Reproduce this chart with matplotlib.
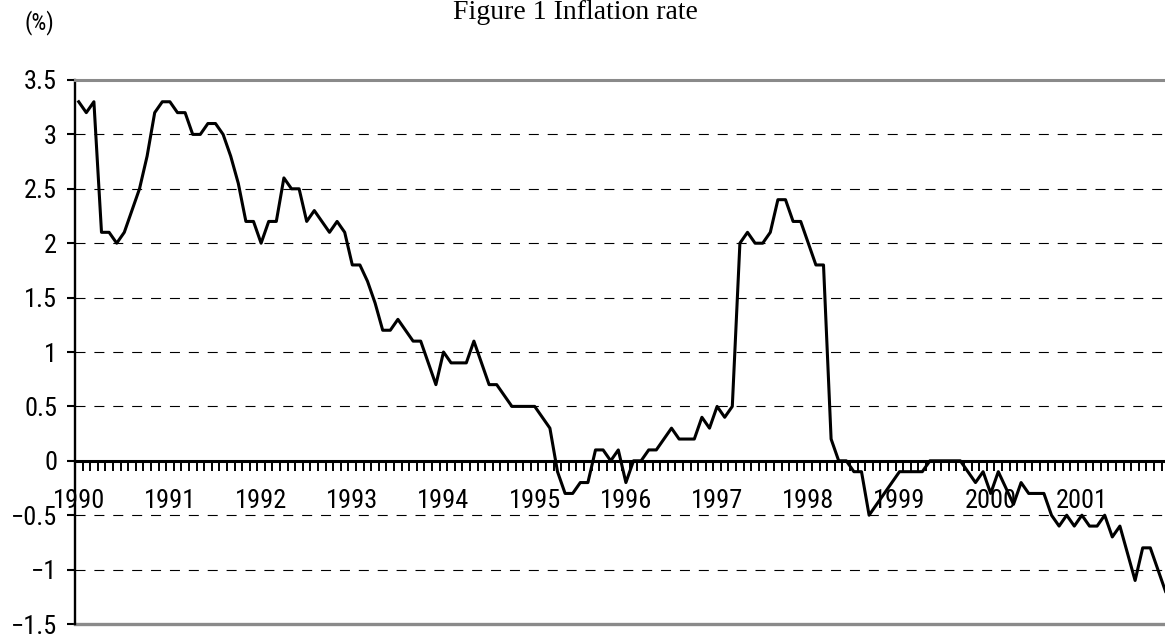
import numpy as np
import matplotlib
matplotlib.use('Agg')
import matplotlib.pyplot as plt

plt.rcParams['font.family'] = ['Roboto Condensed', 'Liberation Sans Narrow', 'Liberation Sans', 'DejaVu Sans']

years = [str(y) for y in range(1990, 2002)]

# monthly inflation rate (%), Jan 1990 - Dec 2001
inflation = [
    3.3, 3.2, 3.3, 2.1, 2.1, 2.0, 2.1, 2.3, 2.5, 2.8, 3.2, 3.3,          # 1990
    3.3, 3.2, 3.2, 3.0, 3.0, 3.1, 3.1, 3.0, 2.8, 2.55, 2.2, 2.2,        # 1991
    2.0, 2.2, 2.2, 2.6, 2.5, 2.5, 2.2, 2.3, 2.2, 2.1, 2.2, 2.1,          # 1992
    1.8, 1.8, 1.65, 1.45, 1.2, 1.2, 1.3, 1.2, 1.1, 1.1, 0.9, 0.7,       # 1993
    1.0, 0.9, 0.9, 0.9, 1.1, 0.9, 0.7, 0.7, 0.6, 0.5, 0.5, 0.5,          # 1994
    0.5, 0.4, 0.3, -0.1, -0.3, -0.3, -0.2, -0.2, 0.1, 0.1, 0.0, 0.1,    # 1995
    -0.2, 0.0, 0.0, 0.1, 0.1, 0.2, 0.3, 0.2, 0.2, 0.2, 0.4, 0.3,        # 1996
    0.5, 0.4, 0.5, 2.0, 2.1, 2.0, 2.0, 2.1, 2.4, 2.4, 2.2, 2.2,          # 1997
    2.0, 1.8, 1.8, 0.2, 0.0, 0.0, -0.1, -0.1, -0.5, -0.4, -0.3, -0.2,   # 1998
    -0.1, -0.1, -0.1, -0.1, 0.0, 0.0, 0.0, 0.0, 0.0, -0.1, -0.2, -0.1,  # 1999
    -0.3, -0.1, -0.25, -0.4, -0.2, -0.3, -0.3, -0.3, -0.5, -0.6, -0.5, -0.6,  # 2000
    -0.5, -0.6, -0.6, -0.5, -0.7, -0.6, -0.85, -1.1, -0.8, -0.8, -1.0, -1.2,  # 2001
]

W, H = 1165, 642
fig = plt.figure(figsize=(W / 100, H / 100), dpi=100)
ax = fig.add_axes([74.9 / W, 18 / H, 1094.4 / W, 544 / H])

months = np.arange(len(inflation))
ax.plot(months, inflation, color='black', lw=2.2, zorder=3)

ax.set_xlim(-0.5, len(inflation) - 0.5)
ax.set_ylim(-1.5, 3.5)

# y axis
ax.set_yticks(np.arange(-1.5, 3.51, 0.5))
ax.yaxis.set_major_formatter(lambda v, p: ('%g' % v).replace('-', '\u2212'))
ax.tick_params(axis='y', direction='out', length=5.8, width=1.5, pad=7, labelsize=19)
ax.grid(axis='y', color='black', lw=0.8, linestyle=(0, (9, 8)))

# x axis crosses at zero, a tick between every month
ax.set_xticks(np.arange(-0.5, len(inflation), 1))
ax.set_xticks(months[::12], labels=years, minor=True)
ax.tick_params(axis='x', which='major', direction='out', length=7, width=1.4, labelbottom=False)
ax.tick_params(axis='x', which='minor', length=0, pad=20, labelsize=19)

ax.spines['bottom'].set_position(('data', 0))
ax.spines['bottom'].set_linewidth(2.2)
ax.spines['left'].set_linewidth(1.7)
ax.spines['top'].set_color('#8a8a8a')
ax.spines['top'].set_linewidth(2.2)
ax.spines['right'].set_visible(False)
ax.axhline(-1.5, color='#8a8a8a', lw=2.4, clip_on=False, zorder=2.4)

fig.text(575 / W, 1 - 19 / H, 'Figure 1 Inflation rate', family='Liberation Serif',
         size=20, ha='center', va='baseline')
fig.text(25 / W, 1 - 23 / H, '(%)', ha='left', va='center', size=17)

fig.savefig('out.png', dpi=100)
